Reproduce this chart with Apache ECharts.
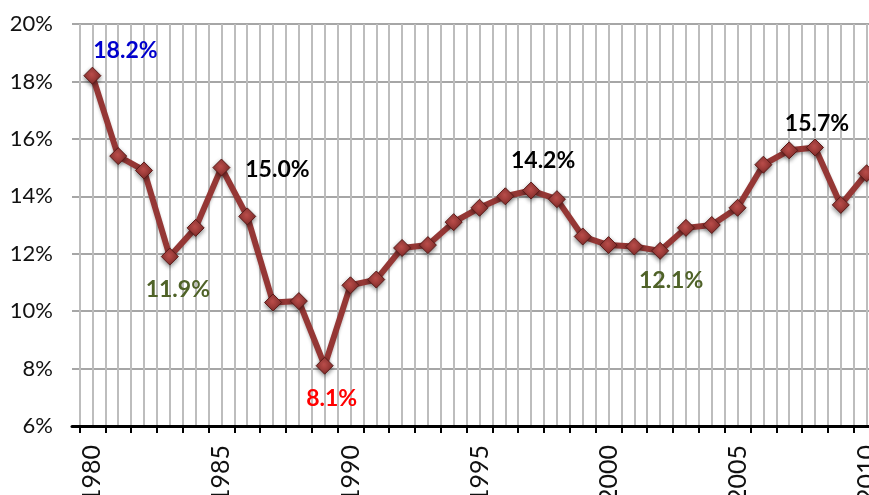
<!DOCTYPE html>
<html>
<head>
<meta charset="utf-8">
<script src="https://cdn.jsdelivr.net/npm/echarts@6/dist/echarts.min.js"></script>
<style>
  html, body { margin: 0; padding: 0; background: #fff; }
  #main { width: 869px; height: 495px; }
</style>
</head>
<body>
<div id="main"></div>
<script>
// data
var years = [];
for (var y = 1980; y <= 2010; y++) years.push(String(y));
var rates = [18.2, 15.4, 14.9, 11.9, 12.9, 15.0, 13.3, 10.3, 10.35, 8.1,
             10.9, 11.1, 12.2, 12.3, 13.1, 13.6, 14.0, 14.2, 13.9, 12.6,
             12.3, 12.25, 12.1, 12.9, 13.0, 13.6, 15.1, 15.6, 15.7, 13.7, 14.8];
var yTicks = [6, 8, 10, 12, 14, 16, 18, 20];

// annotated points: year -> label style
var notes = {
  '1980': { color: '#0000cc', offset: [33, -25] },
  '1983': { color: '#4f6228', offset: [8, 33] },
  '1985': { color: '#000000', offset: [56, 2] },
  '1989': { color: '#ff0000', offset: [7, 33] },
  '1997': { color: '#000000', offset: [12, -30] },
  '2002': { color: '#4f6228', offset: [11, 30] },
  '2008': { color: '#000000', offset: [2, -24] }
};

var seriesData = rates.map(function (v, i) {
  var n = notes[years[i]];
  var item = { value: v };
  if (n) {
    item.label = {
      show: true,
      position: 'inside',
      offset: n.offset,
      formatter: v.toFixed(1) + '%',
      color: n.color,
      fontFamily: 'Lato',
      fontWeight: 'bold',
      fontSize: 23
    };
  }
  return item;
});

var myChart = echarts.init(document.getElementById('main'));
var option = {
  animation: false,
  backgroundColor: '#ffffff',
  grid: [
    { left: 72, top: 24, width: 808, height: 402, outerBoundsMode: 'none' },
    { left: 79.5, top: 24, width: 800, height: 402, outerBoundsMode: 'none' }
  ],
  xAxis: [
    {
      gridIndex: 0, type: 'value', min: 0, max: 1, position: 'bottom',
      axisLine: { show: true, onZero: false, lineStyle: { color: '#000', width: 3 } },
      axisTick: { show: false }, axisLabel: { show: false }, splitLine: { show: false },
      z: 5
    },
    {
      gridIndex: 1, type: 'value', min: 1979.5, max: 2010.5, interval: 0.5, position: 'top',
      axisLine: { show: false }, axisTick: { show: false }, axisLabel: { show: false },
      splitLine: { show: true, lineStyle: { color: '#bdbdbd', width: 2 } }
    },
    {
      gridIndex: 1, type: 'category', data: years, boundaryGap: true, position: 'bottom',
      axisLine: { show: false, onZero: false },
      axisTick: { show: true, interval: 0, length: 7, lineStyle: { color: '#000', width: 2 } },
      axisLabel: {
        interval: 4, rotate: 90, margin: 19,
        color: '#111', fontFamily: 'Lato', fontSize: 25
      },
      splitLine: { show: false },
      z: 5
    }
  ],
  yAxis: [
    {
      gridIndex: 0, type: 'value', min: yTicks[0], max: yTicks[yTicks.length - 1], interval: 2,
      axisLine: { show: false }, axisTick: { show: false },
      axisLabel: {
        formatter: '{value}%', margin: 19,
        color: '#111', fontFamily: 'Lato', fontSize: 22
      },
      splitLine: { show: true, lineStyle: { color: '#a6a6a6', width: 2 } }
    },
    {
      gridIndex: 1, type: 'value', min: yTicks[0], max: yTicks[yTicks.length - 1], interval: 2,
      show: false, splitLine: { show: false }
    }
  ],
  series: [{
    type: 'line',
    xAxisIndex: 2,
    yAxisIndex: 1,
    data: seriesData,
    symbol: 'diamond',
    symbolSize: 17,
    showAllSymbol: true,
    lineStyle: {
      color: '#953735', width: 6,
      shadowColor: 'rgba(0,0,0,0.25)', shadowBlur: 3, shadowOffsetY: 2
    },
    itemStyle: {
      color: new echarts.graphic.RadialGradient(0.45, 0.4, 0.7, [
        { offset: 0, color: '#c0504d' },
        { offset: 1, color: '#7a2624' }
      ]),
      borderColor: '#5a1a18',
      borderWidth: 1,
      shadowColor: 'rgba(0,0,0,0.45)', shadowBlur: 4, shadowOffsetY: 2
    },
    z: 10
  }]
};
myChart.setOption(option);
</script>
</body>
</html>
